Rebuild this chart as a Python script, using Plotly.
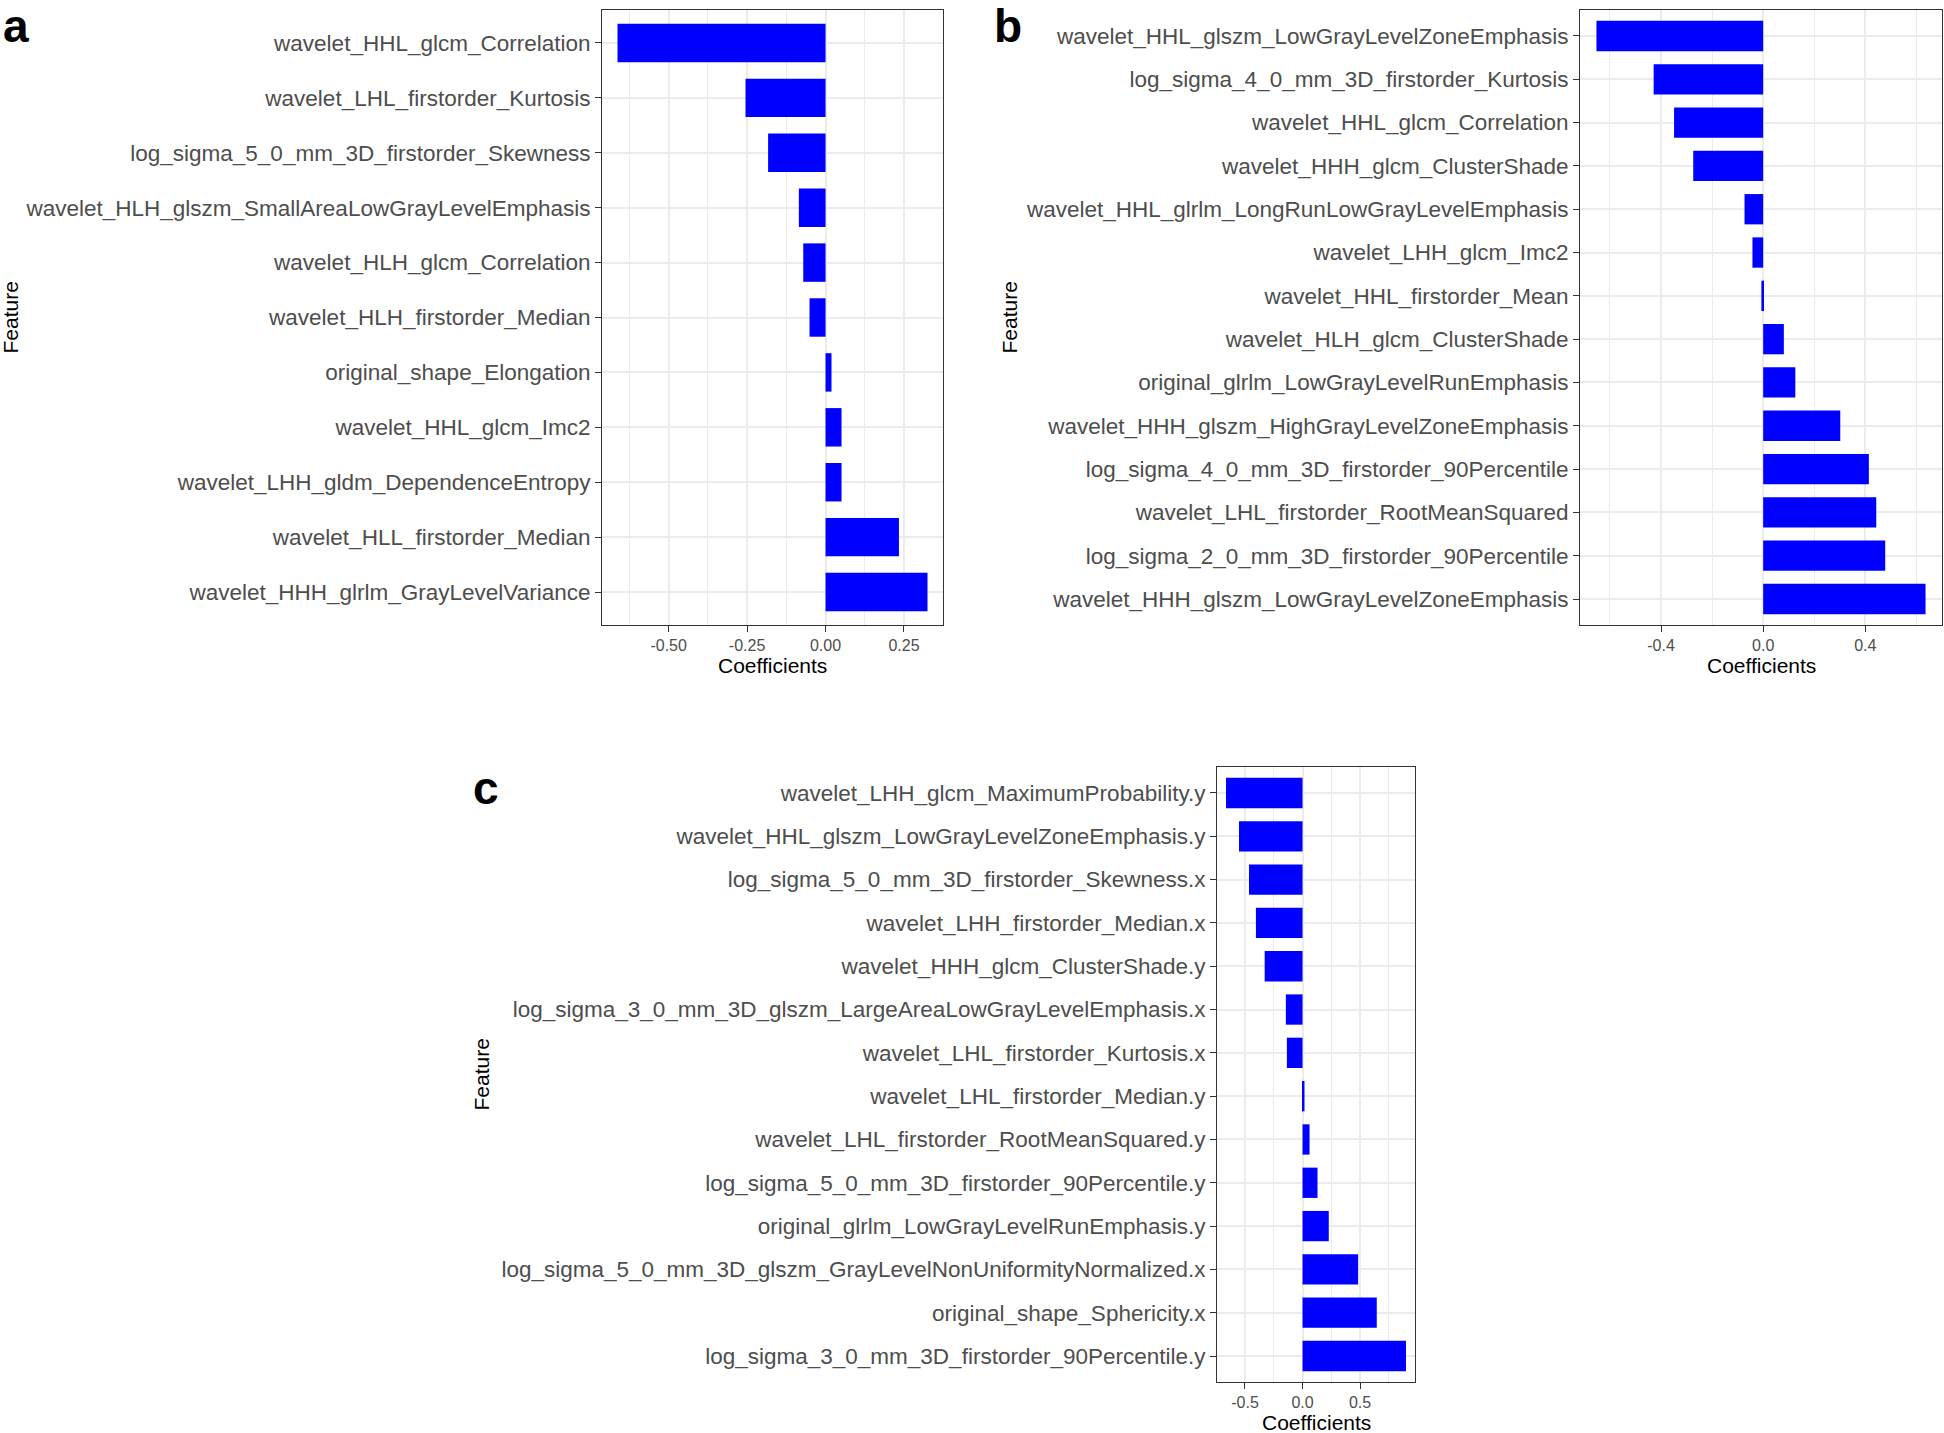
import plotly.graph_objects as go

# ---------------- data ----------------
a_features = [
    "wavelet_HHL_glcm_Correlation",
    "wavelet_LHL_firstorder_Kurtosis",
    "log_sigma_5_0_mm_3D_firstorder_Skewness",
    "wavelet_HLH_glszm_SmallAreaLowGrayLevelEmphasis",
    "wavelet_HLH_glcm_Correlation",
    "wavelet_HLH_firstorder_Median",
    "original_shape_Elongation",
    "wavelet_HHL_glcm_Imc2",
    "wavelet_LHH_gldm_DependenceEntropy",
    "wavelet_HLL_firstorder_Median",
    "wavelet_HHH_glrlm_GrayLevelVariance",
]
a_coef = [-0.663, -0.255, -0.183, -0.085, -0.071, -0.051, 0.019, 0.051, 0.051, 0.234, 0.325]

b_features = [
    "wavelet_HHL_glszm_LowGrayLevelZoneEmphasis",
    "log_sigma_4_0_mm_3D_firstorder_Kurtosis",
    "wavelet_HHL_glcm_Correlation",
    "wavelet_HHH_glcm_ClusterShade",
    "wavelet_HHL_glrlm_LongRunLowGrayLevelEmphasis",
    "wavelet_LHH_glcm_Imc2",
    "wavelet_HHL_firstorder_Mean",
    "wavelet_HLH_glcm_ClusterShade",
    "original_glrlm_LowGrayLevelRunEmphasis",
    "wavelet_HHH_glszm_HighGrayLevelZoneEmphasis",
    "log_sigma_4_0_mm_3D_firstorder_90Percentile",
    "wavelet_LHL_firstorder_RootMeanSquared",
    "log_sigma_2_0_mm_3D_firstorder_90Percentile",
    "wavelet_HHH_glszm_LowGrayLevelZoneEmphasis",
]
b_coef = [-0.653, -0.429, -0.349, -0.274, -0.073, -0.042, -0.007, 0.081, 0.126,
          0.302, 0.414, 0.443, 0.478, 0.636]

c_features = [
    "wavelet_LHH_glcm_MaximumProbability.y",
    "wavelet_HHL_glszm_LowGrayLevelZoneEmphasis.y",
    "log_sigma_5_0_mm_3D_firstorder_Skewness.x",
    "wavelet_LHH_firstorder_Median.x",
    "wavelet_HHH_glcm_ClusterShade.y",
    "log_sigma_3_0_mm_3D_glszm_LargeAreaLowGrayLevelEmphasis.x",
    "wavelet_LHL_firstorder_Kurtosis.x",
    "wavelet_LHL_firstorder_Median.y",
    "wavelet_LHL_firstorder_RootMeanSquared.y",
    "log_sigma_5_0_mm_3D_firstorder_90Percentile.y",
    "original_glrlm_LowGrayLevelRunEmphasis.y",
    "log_sigma_5_0_mm_3D_glszm_GrayLevelNonUniformityNormalized.x",
    "original_shape_Sphericity.x",
    "log_sigma_3_0_mm_3D_firstorder_90Percentile.y",
]
c_coef = [-0.665, -0.552, -0.465, -0.405, -0.329, -0.145, -0.136, 0.017, 0.061,
          0.130, 0.228, 0.483, 0.645, 0.899]

a_ticks = [-0.50, -0.25, 0.00, 0.25]
b_ticks = [-0.4, 0.0, 0.4]
c_ticks = [-0.5, 0.0, 0.5]

# ---------------- layout helpers ----------------
W, H = 1944, 1433
FONT = "Liberation Sans, Arial, sans-serif"
GRID = "#EBEBEB"
DARK = "#333333"
TICKTXT = "#4D4D4D"


def px_x(p):
    return p / W


def px_y(p):
    return 1 - p / H


def xrange(vals):
    lo, hi = min(vals + [0]), max(vals + [0])
    e = (hi - lo) * 0.05
    return [lo - e, hi + e]


panels = [
    # features, coef, ticks, tickformat, minor dtick, x px domain, y px domain
    (a_features, a_coef, a_ticks, ".2f", 0.125, (602, 943), (10, 625)),
    (b_features, b_coef, b_ticks, ".1f", 0.2, (1580, 1942), (10, 625)),
    (c_features, c_coef, c_ticks, ".1f", 0.25, (1217, 1415), (767, 1382)),
]

fig = go.Figure()
layout = dict(
    width=W, height=H,
    margin=dict(l=0, r=0, t=0, b=0),
    paper_bgcolor="white", plot_bgcolor="white",
    showlegend=False, bargap=0.3,
    font=dict(family=FONT),
)

annotations = []
for i, (feats, coef, ticks, fmt, mdt, (x0, x1), (y0, y1)) in enumerate(panels, start=1):
    sx = "" if i == 1 else str(i)
    fig.add_trace(go.Bar(
        x=coef, y=feats, orientation="h",
        marker=dict(color="#0000FF", line=dict(width=0)),
        width=0.7,
        xaxis="x" + sx, yaxis="y" + sx,
    ))
    n = len(feats)
    layout["xaxis" + sx] = dict(
        domain=[px_x(x0), px_x(x1)], anchor="y" + sx,
        range=xrange(coef),
        tickmode="array", tickvals=ticks,
        ticktext=[format(t, fmt) for t in ticks],
        ticks="outside", ticklen=6, tickwidth=1, tickcolor=DARK,
        tickfont=dict(size=16, color=TICKTXT, family=FONT),
        showgrid=True, gridcolor=GRID, gridwidth=1.6,
        minor=dict(dtick=mdt, tick0=0, showgrid=True, gridcolor=GRID, gridwidth=0.8, ticks=""),
        showline=True, linecolor=DARK, linewidth=1, mirror=True,
        zeroline=False, fixedrange=True,
    )
    layout["yaxis" + sx] = dict(
        domain=[px_y(y1), px_y(y0)], anchor="x" + sx,
        type="category", categoryorder="array", categoryarray=feats,
        range=[n - 1 + 0.6, -0.6],
        ticks="outside", ticklen=6, tickwidth=1, tickcolor=DARK,
        tickfont=dict(size=22.5, color=TICKTXT, family=FONT),
        showgrid=True, gridcolor=GRID, gridwidth=1.6,
        showline=True, linecolor=DARK, linewidth=1, mirror=True,
        zeroline=False, fixedrange=True,
    )
    # axis titles
    annotations.append(dict(
        text="Coefficients", xref="paper", yref="paper",
        x=px_x((x0 + x1) / 2), y=px_y(y1 + 40),
        xanchor="center", yanchor="middle", showarrow=False,
        font=dict(size=21, color="black", family=FONT),
    ))

feature_x = [10, 1009, 481]
for fx, (_, _, _, _, _, _, (y0, y1)) in zip(feature_x, panels):
    annotations.append(dict(
        text="Feature", xref="paper", yref="paper",
        x=px_x(fx), y=px_y((y0 + y1) / 2), textangle=-90,
        xanchor="center", yanchor="middle", showarrow=False,
        font=dict(size=21, color="black", family=FONT),
    ))

for lab, lx, ly in [("a", 16, 26), ("b", 1008, 26), ("c", 486, 788)]:
    annotations.append(dict(
        text="<b>" + lab + "</b>", xref="paper", yref="paper",
        x=px_x(lx), y=px_y(ly), xanchor="center", yanchor="middle",
        showarrow=False, font=dict(size=46, color="black", family=FONT),
    ))

layout["annotations"] = annotations
fig.update_layout(**layout)
fig.write_html(
    "out.html",
    config={"displayModeBar": False},
    post_script="document.body.style.margin='0';document.body.style.overflow='hidden';",
)
